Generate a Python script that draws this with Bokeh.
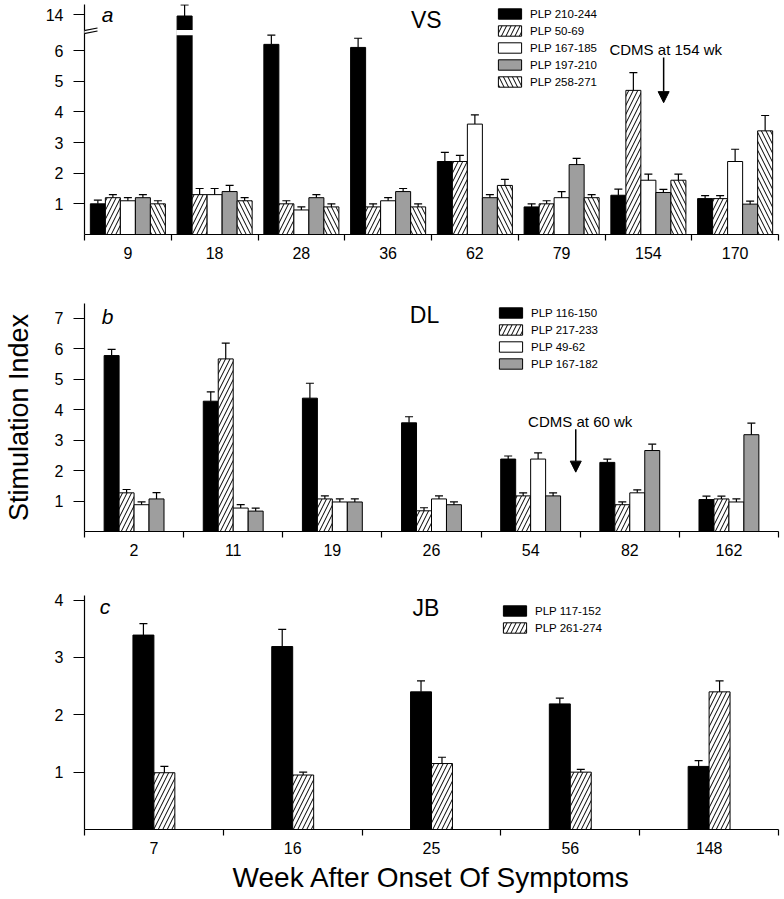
import math
from bokeh.plotting import figure
from bokeh.models import (ColumnDataSource, FixedTicker, Legend, LegendItem, Whisker,
                          TeeHead, Arrow, NormalHead, Label, Range1d)
from bokeh.layouts import column
from bokeh.embed import file_html
from bokeh.resources import INLINE

FONT = "Liberation Sans"

# ---------------- Panel a : VS ----------------
a_weeks = ["9", "18", "28", "36", "62", "79", "154", "170"]
a_names = ["PLP 210-244", "PLP 50-69", "PLP 167-185", "PLP 197-210", "PLP 258-271"]
a_plp210_244 = [1.0, 13.9, 6.2, 6.1, 2.38, 0.9, 1.28, 1.17]
a_plp210_244_err = [0.12, 0.8, 0.3, 0.3, 0.3, 0.1, 0.2, 0.1]
a_plp50_69 = [1.2, 1.3, 1.0, 0.9, 2.38, 1.0, 4.7, 1.17]
a_plp50_69_err = [0.1, 0.2, 0.1, 0.1, 0.2, 0.1, 0.58, 0.1]
a_plp167_185 = [1.1, 1.3, 0.8, 1.1, 3.6, 1.2, 1.77, 2.38]
a_plp167_185_err = [0.1, 0.2, 0.1, 0.1, 0.3, 0.2, 0.2, 0.4]
a_plp197_210 = [1.2, 1.4, 1.2, 1.4, 1.2, 2.28, 1.37, 0.99]
a_plp197_210_err = [0.1, 0.2, 0.1, 0.1, 0.1, 0.2, 0.1, 0.1]
a_plp258_271 = [1.0, 1.1, 0.9, 0.9, 1.6, 1.2, 1.77, 3.38]
a_plp258_271_err = [0.1, 0.1, 0.1, 0.1, 0.2, 0.1, 0.2, 0.5]
a_yticks = [1, 2, 3, 4, 5, 6, 14]

# ---------------- Panel b : DL ----------------
b_weeks = ["2", "11", "19", "26", "54", "82", "162"]
b_names = ["PLP 116-150", "PLP 217-233", "PLP 49-62", "PLP 167-182"]
b_plp116_150 = [5.78, 4.28, 4.38, 3.57, 2.38, 2.27, 1.05]
b_plp116_150_err = [0.2, 0.31, 0.49, 0.2, 0.1, 0.11, 0.11]
b_plp217_233 = [1.27, 5.67, 1.07, 0.68, 1.17, 0.88, 1.07]
b_plp217_233_err = [0.11, 0.52, 0.1, 0.1, 0.1, 0.09, 0.09]
b_plp49_62 = [0.88, 0.77, 0.97, 1.07, 2.38, 1.27, 0.97]
b_plp49_62_err = [0.09, 0.11, 0.1, 0.1, 0.2, 0.1, 0.1]
b_plp167_182 = [1.07, 0.67, 0.97, 0.88, 1.17, 2.66, 3.18]
b_plp167_182_err = [0.21, 0.1, 0.1, 0.09, 0.1, 0.21, 0.38]
b_yticks = [1, 2, 3, 4, 5, 6, 7]

# ---------------- Panel c : JB ----------------
c_weeks = ["7", "16", "25", "56", "148"]
c_names = ["PLP 117-152", "PLP 261-274"]
c_plp117_152 = [3.39, 3.19, 2.40, 2.19, 1.10]
c_plp117_152_err = [0.2, 0.3, 0.19, 0.1, 0.1]
c_plp261_274 = [0.99, 0.95, 1.15, 1.0, 2.40]
c_plp261_274_err = [0.11, 0.05, 0.11, 0.05, 0.19]
c_yticks = [1, 2, 3, 4]

# ---------------- styles ----------------
HATCH = dict(hatch_color="black", hatch_scale=9, hatch_weight=1)
S_BLACK = dict(fill_color="black")
S_FWD = dict(fill_color="white", hatch_pattern="/", **HATCH)
S_WHITE = dict(fill_color="white")
S_GRAY = dict(fill_color="#9e9e9e")
S_BACK = dict(fill_color="white", hatch_pattern="\\", **HATCH)

# broken axis for panel a: values above the break are compressed
BREAK_LO, BREAK_HI = 6.5, 6.67


def a_tf(v):
    return v if v <= 7 else 7.17 + (v - 14) * 0.45


def ident(v):
    return v


def make_panel(weeks, names, series, errors, styles, y_top, bar_w, tf, yticks,
               height, b_top, b_bottom, legend_xy):
    n = len(weeks)
    k = len(series)
    p = figure(width=784, height=height, x_range=Range1d(0, n), y_range=Range1d(0, y_top),
               output_backend="svg", toolbar_location=None,
               min_border_left=83, min_border_right=6,
               min_border_top=b_top, min_border_bottom=b_bottom)
    p.outline_line_color = None
    p.xgrid.visible = False
    p.ygrid.visible = False
    p.background_fill_color = "white"

    items = []
    bar_centers = []
    for j, (vals, errs, st, nm) in enumerate(zip(series, errors, styles, names)):
        xs = [i + 0.5 + (j - (k - 1) / 2) * bar_w for i in range(n)]
        bar_centers.append(xs)
        r = p.vbar(x=xs, top=[tf(v) for v in vals], bottom=0, width=bar_w,
                   line_color="black", line_width=1, **st)
        src = ColumnDataSource(dict(x=xs, lower=[tf(v) for v in vals],
                                    upper=[tf(v + e) for v, e in zip(vals, errs)]))
        w = Whisker(source=src, base="x", lower="lower", upper="upper", dimension="height",
                    lower_head=None, upper_head=TeeHead(size=8, line_width=1.2, line_color="black"),
                    line_width=1.2, line_color="black", level="glyph")
        p.add_layout(w)
        items.append(LegendItem(label=nm, renderers=[r]))

    # x axis: ticks at the group boundaries, labels at the group centres
    xa = p.xaxis[0]
    xa.ticker = FixedTicker(ticks=[i + 0.5 for i in range(n)], minor_ticks=list(range(n + 1)))
    xa.major_label_overrides = {i + 0.5: wk for i, wk in enumerate(weeks)}
    xa.major_tick_out = 0
    xa.major_tick_in = 0
    xa.minor_tick_out = 6
    xa.minor_tick_in = 0
    xa.minor_tick_line_color = "black"
    xa.minor_tick_line_width = 1.2
    xa.axis_line_width = 1.2
    xa.axis_line_color = "black"
    xa.major_label_standoff = 6
    xa.major_label_text_font = FONT
    xa.major_label_text_font_size = "16px"
    xa.major_label_text_color = "black"

    ya = p.yaxis[0]
    tick_pos = [tf(t) for t in yticks]
    ya.ticker = FixedTicker(ticks=tick_pos, minor_ticks=[])
    ya.major_label_overrides = {tp: str(t) for tp, t in zip(tick_pos, yticks)}
    ya.major_tick_out = 11
    ya.major_tick_in = 0
    ya.major_tick_line_width = 1.2
    ya.axis_line_width = 1.2
    ya.axis_line_color = "black"
    ya.major_label_standoff = 10
    ya.major_label_text_font = FONT
    ya.major_label_text_font_size = "16px"
    ya.major_label_text_color = "black"

    leg = Legend(items=items, location=legend_xy, glyph_width=29, glyph_height=13,
                 label_height=13, spacing=4, padding=0, margin=0, label_standoff=6,
                 border_line_color=None, background_fill_alpha=0,
                 label_text_font=FONT, label_text_font_size="11.5px",
                 label_text_color="black", label_text_baseline="middle")
    p.add_layout(leg)
    return p, bar_centers


def label(p, x, y, text, size, style="normal", angle=0.0):
    p.add_layout(Label(x=x, y=y, text=text, text_font=FONT, text_font_size=size,
                       text_font_style=style, text_align="center", text_baseline="middle",
                       text_color="black", angle=angle))


def arrow(p, x, y0, y1):
    p.add_layout(Arrow(x_start=x, y_start=y0, x_end=x, y_end=y1, line_width=1.5,
                       line_color="black",
                       end=NormalHead(size=11, fill_color="black", line_color="black",
                                      line_width=1)))


# ---------------- build panel a ----------------
pa, a_centers = make_panel(
    a_weeks, a_names,
    [a_plp210_244, a_plp50_69, a_plp167_185, a_plp197_210, a_plp258_271],
    [a_plp210_244_err, a_plp50_69_err, a_plp167_185_err, a_plp197_210_err, a_plp258_271_err],
    [S_BLACK, S_FWD, S_WHITE, S_GRAY, S_BACK],
    7.5, 0.173, a_tf, a_yticks, 290, 4, 56, (411, 146))
# break in the tall bar(s)
for xc, v in zip(a_centers[0], a_plp210_244):
    if v > 7:
        pa.quad(left=xc - 0.173 / 2 - 0.01, right=xc + 0.173 / 2 + 0.01,
                bottom=BREAK_LO, top=BREAK_HI, fill_color="white", line_color=None)
# break marks on the axis
pa.add_layout(Arrow(x_start=-0.127, y_start=6.537, x_end=0.15, y_end=6.684, end=None,
                    line_color="white", line_width=3, level="overlay"))
pa.add_layout(Arrow(x_start=-0.127, y_start=6.586, x_end=0.15, y_end=6.733, end=None,
                    line_color="black", line_width=1.2, level="overlay"))
pa.add_layout(Arrow(x_start=-0.127, y_start=6.488, x_end=0.15, y_end=6.635, end=None,
                    line_color="black", line_width=1.2, level="overlay"))
label(pa, 0.265, 7.19, "a", "21px", "italic")
label(pa, 3.94, 6.98, "VS", "23px")
label(pa, 6.7, 6.03, "CDMS at 154 wk", "15px")
arrow(pa, 6.676, 5.77, 4.30)

# ---------------- build panel b ----------------
pb, _ = make_panel(
    b_weeks, b_names,
    [b_plp116_150, b_plp217_233, b_plp49_62, b_plp167_182],
    [b_plp116_150_err, b_plp217_233_err, b_plp49_62_err, b_plp167_182_err],
    [S_BLACK, S_FWD, S_WHITE, S_GRAY],
    7.49, 0.151, ident, b_yticks, 300, 13, 59, (412, 161))
label(pb, 0.232, 7.05, "b", "21px", "italic")
label(pb, 3.43, 7.11, "DL", "23px")
label(pb, 5.0, 3.6, "CDMS at 60 wk", "15px")
arrow(pb, 4.955, 3.36, 1.95)
pb.yaxis.axis_label = "Stimulation Index"
pb.yaxis.axis_label_text_font = FONT
pb.yaxis.axis_label_text_font_size = "27px"
pb.yaxis.axis_label_text_font_style = "normal"
pb.yaxis.axis_label_text_color = "black"
pb.yaxis.axis_label_standoff = 18

# ---------------- build panel c ----------------
pc, _ = make_panel(
    c_weeks, c_names,
    [c_plp117_152, c_plp261_274],
    [c_plp117_152_err, c_plp261_274_err],
    [S_BLACK, S_FWD],
    4.08, 0.151, ident, c_yticks, 309, 5, 70, (416, 195))
label(pc, 0.147, 3.88, "c", "21px", "italic")
label(pc, 2.46, 3.87, "JB", "23px")
pc.xaxis.axis_label = "Week After Onset Of Symptoms"
pc.xaxis.axis_label_text_font = FONT
pc.xaxis.axis_label_text_font_size = "28px"
pc.xaxis.axis_label_text_font_style = "normal"
pc.xaxis.axis_label_text_color = "black"
pc.xaxis.axis_label_standoff = 5

layout = column(pa, pb, pc, spacing=0)
open("out.html", "w").write(file_html(layout, INLINE))
